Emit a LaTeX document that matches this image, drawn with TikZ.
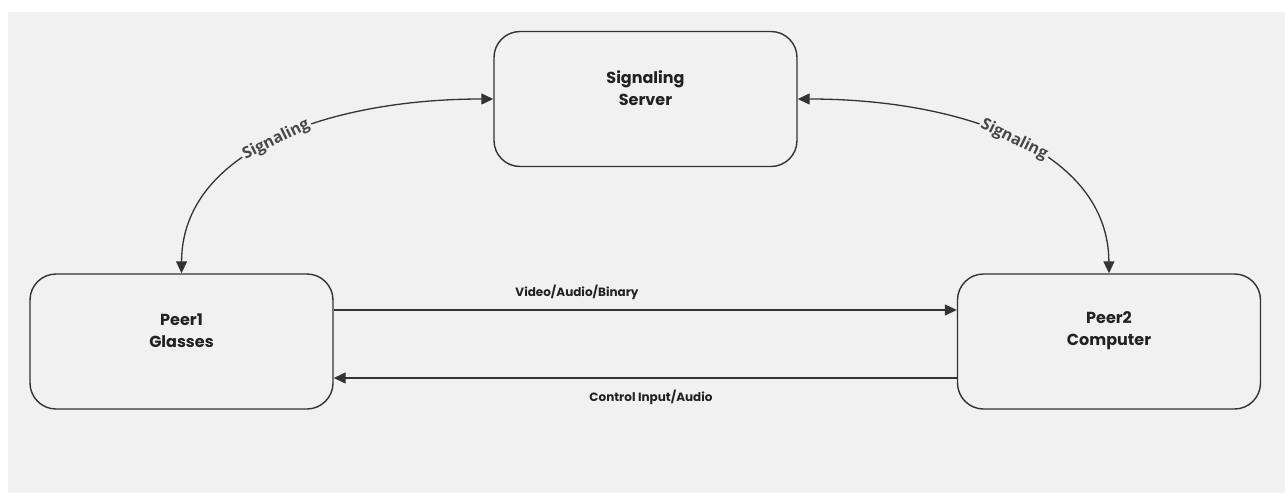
\documentclass[tikz,border=0pt]{standalone}
\usepackage{fontspec}
\setmainfont{Poppins}
\newfontfamily\edgefont{Open Sans}
\usetikzlibrary{arrows.meta,calc}
\definecolor{bgc}{HTML}{F1F1F1}
\definecolor{ink}{HTML}{333333}
\definecolor{txt}{HTML}{222222}
\begin{document}
\begin{tikzpicture}[x=1pt,y=-1pt,
  box/.style={draw=ink, line width=1.4pt, rounded corners=26pt, minimum width=303pt, minimum height=135pt, inner sep=0pt},
  boxtext/.style={font=\fontsize{16}{22}\selectfont\bfseries, text=txt, align=center},
  midtext/.style={font=\fontsize{12}{15}\selectfont\bfseries, text=txt},
  curvetext/.style={font=\edgefont\fontsize{16}{18}\selectfont\bfseries, text=ink!90, fill=bgc, inner sep=2pt, sloped},
  arr/.style={draw=ink, line width=1.3pt, -{Triangle[length=12pt,width=11pt]}},
  darr/.style={draw=ink, line width=1.3pt, {Triangle[length=12pt,width=11pt]}-{Triangle[length=12pt,width=11pt]}}]
\useasboundingbox (0,0) rectangle (1285,493);
\fill[white] (0,0) rectangle (1285,493);
\fill[bgc] (8,12) rectangle (1285,493);

\node[box] (srv) at (645.5,99) {};
\node[box] (p1) at (181.5,341.5) {};
\node[box] (p2) at (1109,341.5) {};

\node[boxtext] (srvt) at (645.5,88) {Signaling\\Server};
\node[boxtext] (p1t) at (181.5,331) {Peer1\\Glasses};
\node[boxtext] (p2t) at (1109,331) {Peer2\\Computer};

\coordinate (ya) at (0,310);
\coordinate (yb) at (0,378);
\coordinate (srvL) at (srv.west);
\coordinate (srvR) at (srv.east);
\coordinate (p1T) at (p1.north);
\coordinate (p2T) at (p2.north);

\draw[arr] (p1.east |- ya) -- (p2.west |- ya);
\draw[arr] (p2.west |- yb) -- (p1.east |- yb);
\node[midtext] (lva) at (577,292) {Video/Audio/Binary};
\node[midtext] (lci) at (651,397) {Control Input/Audio};

\draw[darr] (srvL) .. controls (330,99) and (182,150) .. (p1T)
  node[curvetext, pos=0.5] (ls1) {Signaling};
\draw[darr] (srvR) .. controls (961,99) and (1108,150) .. (p2T)
  node[curvetext, pos=0.5] (ls2) {Signaling};
\end{tikzpicture}
\end{document}
